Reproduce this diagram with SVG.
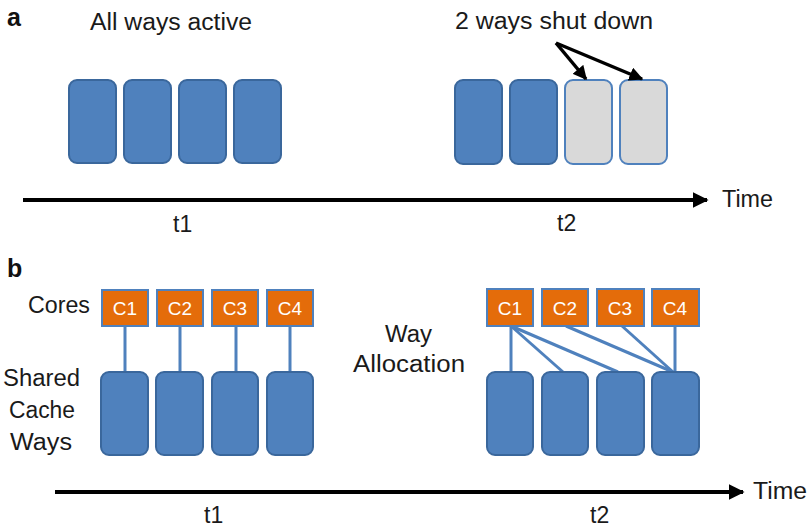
<svg xmlns="http://www.w3.org/2000/svg" width="808" height="531" viewBox="0 0 808 531">
<defs>
<style>
.t{font-family:"Liberation Sans",Arial,sans-serif;fill:#1a1a1a;font-size:23px}
.lbl{font-family:"Liberation Sans",Arial,sans-serif;font-weight:bold;font-size:25px;fill:#111}
.way{fill:#4F81BD;stroke:#3A679C;stroke-width:2}
.off{fill:#D9D9D9;stroke:#4F81BD;stroke-width:2}
.core{fill:#E46C0A;stroke:#4F81BD;stroke-width:2}
.ct{font-family:"Liberation Sans",Arial,sans-serif;font-size:19px;fill:#fff;text-anchor:middle}
.axis{stroke:#000;stroke-width:4;fill:none}
.lnk{stroke:#4F81BD;stroke-width:3;fill:none}
.arr{stroke:#000;stroke-width:3.5;fill:none}
</style>
<marker id="ah" viewBox="0 0 10 10" refX="9" refY="5" markerWidth="4" markerHeight="4" orient="auto" markerUnits="strokeWidth">
<path d="M0,0 L10,5 L0,10 z" fill="#000"/>
</marker>
<marker id="ah2" viewBox="0 0 10 10" refX="9" refY="5" markerWidth="4" markerHeight="4" orient="auto" markerUnits="strokeWidth">
<path d="M0,0 L10,5 L0,10 z" fill="#000"/>
</marker>
</defs>
<rect width="808" height="531" fill="#fff"/>

<text class="lbl" x="7" y="26">a</text>
<text class="t" x="90" y="30" textLength="162" lengthAdjust="spacingAndGlyphs">All ways active</text>
<text class="t" x="455" y="29" textLength="198" lengthAdjust="spacingAndGlyphs">2 ways shut down</text>

<g id="a-t1-ways">
<rect class="way" x="69" y="80" width="47" height="83" rx="8"/>
<rect class="way" x="124" y="80" width="47" height="83" rx="8"/>
<rect class="way" x="179" y="80" width="47" height="83" rx="8"/>
<rect class="way" x="234" y="80" width="47" height="83" rx="8"/>
</g>
<g id="a-t2-ways">
<rect class="way" x="455" y="80" width="47" height="84" rx="8"/>
<rect class="way" x="510" y="80" width="47" height="84" rx="8"/>
<rect class="off" x="565" y="80" width="47" height="84" rx="8"/>
<rect class="off" x="620" y="80" width="47" height="84" rx="8"/>
</g>

<g id="connectors">
<line class="arr" x1="556" y1="43" x2="586" y2="79" marker-end="url(#ah)"/>
<line class="arr" x1="556" y1="43" x2="642" y2="79" marker-end="url(#ah)"/>
<line class="axis" x1="23" y1="200" x2="707" y2="200" marker-end="url(#ah2)"/>
<line class="axis" x1="55" y1="492" x2="743" y2="492" marker-end="url(#ah2)"/>
<line class="lnk" x1="125" y1="327" x2="125" y2="372"/>
<line class="lnk" x1="180" y1="327" x2="180" y2="372"/>
<line class="lnk" x1="236" y1="327" x2="236" y2="372"/>
<line class="lnk" x1="290" y1="327" x2="290" y2="372"/>
<line class="lnk" x1="511" y1="326" x2="511" y2="372"/>
<line class="lnk" x1="511" y1="326" x2="563" y2="372"/>
<line class="lnk" x1="511" y1="326" x2="618" y2="372"/>
<line class="lnk" x1="566" y1="326" x2="673" y2="372"/>
<line class="lnk" x1="622" y1="326" x2="673" y2="372"/>
<line class="lnk" x1="675" y1="326" x2="675" y2="372"/>
</g>

<text class="t" x="722" y="207" textLength="51" lengthAdjust="spacingAndGlyphs">Time</text>
<text class="t" x="173" y="232">t1</text>
<text class="t" x="557" y="231">t2</text>

<text class="lbl" x="7" y="277">b</text>
<text class="t" x="28" y="313" textLength="62" lengthAdjust="spacingAndGlyphs">Cores</text>
<text class="t" x="3" y="386" textLength="77" lengthAdjust="spacingAndGlyphs">Shared</text>
<text class="t" x="9" y="418" textLength="66" lengthAdjust="spacingAndGlyphs">Cache</text>
<text class="t" x="10" y="450" textLength="62" lengthAdjust="spacingAndGlyphs">Ways</text>
<text class="t" x="385" y="342" textLength="47" lengthAdjust="spacingAndGlyphs">Way</text>
<text class="t" x="353" y="372" textLength="112" lengthAdjust="spacingAndGlyphs">Allocation</text>

<g id="b-t1-cores">
<rect class="core" x="102" y="290" width="46" height="36"/><text class="ct" x="125" y="315">C1</text>
<rect class="core" x="157" y="290" width="46" height="36"/><text class="ct" x="180" y="315">C2</text>
<rect class="core" x="212" y="290" width="46" height="36"/><text class="ct" x="235" y="315">C3</text>
<rect class="core" x="267" y="290" width="46" height="36"/><text class="ct" x="290" y="315">C4</text>
</g>
<g id="b-t1-ways">
<rect class="way" x="101" y="372" width="47" height="83" rx="8"/>
<rect class="way" x="156" y="372" width="47" height="83" rx="8"/>
<rect class="way" x="212" y="372" width="46" height="83" rx="8"/>
<rect class="way" x="267" y="372" width="46" height="83" rx="8"/>
</g>
<g id="b-t2-cores">
<rect class="core" x="487" y="289" width="46" height="37"/><text class="ct" x="510" y="315">C1</text>
<rect class="core" x="542" y="289" width="46" height="37"/><text class="ct" x="565" y="315">C2</text>
<rect class="core" x="597" y="289" width="47" height="37"/><text class="ct" x="620" y="315">C3</text>
<rect class="core" x="652" y="289" width="47" height="37"/><text class="ct" x="675" y="315">C4</text>
</g>
<g id="b-t2-ways">
<rect class="way" x="487" y="372" width="46" height="83" rx="8"/>
<rect class="way" x="542" y="372" width="46" height="83" rx="8"/>
<rect class="way" x="597" y="372" width="47" height="83" rx="8"/>
<rect class="way" x="652" y="372" width="47" height="83" rx="8"/>
</g>

<text class="t" x="753" y="499" textLength="54" lengthAdjust="spacingAndGlyphs">Time</text>
<text class="t" x="204" y="523">t1</text>
<text class="t" x="590" y="523">t2</text>
</svg>
